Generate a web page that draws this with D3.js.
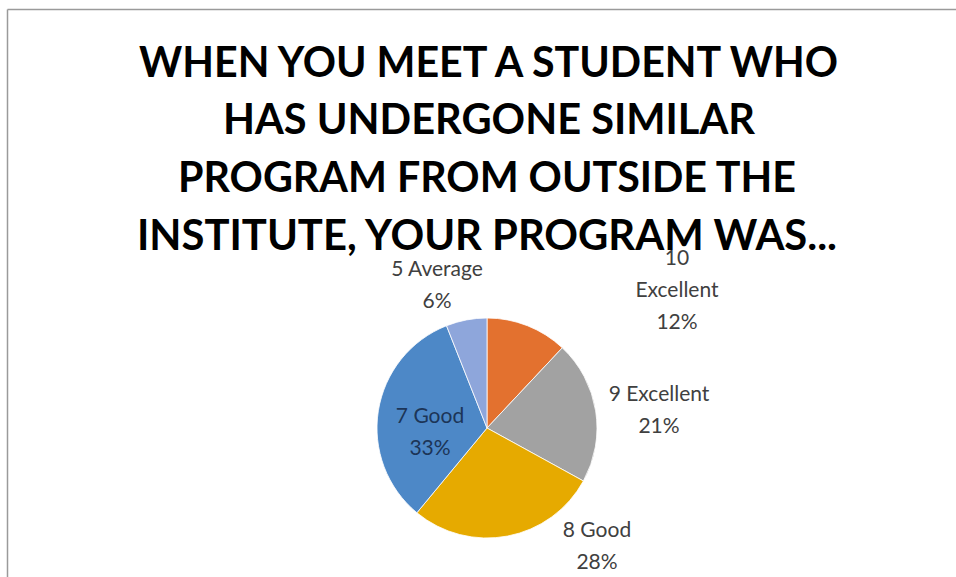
<!DOCTYPE html>
<html>
<head>
<meta charset="utf-8">
<script src="https://cdnjs.cloudflare.com/ajax/libs/d3/7.8.5/d3.min.js"></script>
<style>
  html, body { margin: 0; padding: 0; background: #fff; }
  svg { display: block; }
</style>
</head>
<body>
<svg id="chart" width="956" height="577"></svg>
<script>
// ---- data ----
const titleLines = [
  "WHEN YOU MEET A STUDENT WHO",
  "HAS UNDERGONE SIMILAR",
  "PROGRAM FROM OUTSIDE THE",
  "INSTITUTE, YOUR PROGRAM WAS..."
];
const categories = ["10 Excellent", "9 Excellent", "8 Good", "7 Good", "5 Average"];
const labelLines = [["10", "Excellent"], ["9 Excellent"], ["8 Good"], ["7 Good"], ["5 Average"]];
const values = [12, 21, 28, 33, 6];
const colors = ["#E3712F", "#A2A2A2", "#E6AA00", "#4D88C7", "#8EA6DB"];

// ---- layout ----
const W = 956, H = 577;
const cx = 487, cy = 428, R = 110;
// label anchors relative to pie centre: [dx, first baseline dy]
const labelPos = [[190, -163], [172, -27], [110, 109], [-57, -5], [-50, -152]];
const labelFill = ["#404040", "#404040", "#404040", "#1C3557", "#404040"];
const lineGap = 32;

const svg = d3.select("#chart");

// frame
svg.append("line").attr("x1", 7.5).attr("y1", 9.5).attr("x2", W).attr("y2", 9.5)
  .attr("stroke", "#9a9a9a").attr("stroke-width", 1.5);
svg.append("line").attr("x1", 7.5).attr("y1", 9.5).attr("x2", 7.5).attr("y2", H)
  .attr("stroke", "#9a9a9a").attr("stroke-width", 1.5);

// pie
const total = d3.sum(values);
const pie = d3.pie().sort(null).value(d => d)(values);
const arc = d3.arc().innerRadius(0).outerRadius(R);
const g = svg.append("g").attr("transform", `translate(${cx},${cy})`);
g.selectAll("path").data(pie).join("path")
  .attr("d", arc)
  .attr("fill", (d, i) => colors[i])
  .attr("stroke", "#ffffff").attr("stroke-width", 0.8);

// labels
const fmt = v => Math.round(v / total * 100) + "%";
pie.forEach((d, i) => {
  const lines = labelLines[i].concat([fmt(values[i])]);
  const t = g.append("text")
    .attr("text-anchor", "middle")
    .attr("font-family", "Lato, 'Open Sans', sans-serif")
    .attr("font-size", 21)
    .attr("fill", labelFill[i]);
  lines.forEach((ln, k) => {
    t.append("tspan")
      .attr("x", labelPos[i][0])
      .attr("y", labelPos[i][1] + k * lineGap)
      .text(ln);
  });
});

// title
const titleBase = [77, 134, 192, 250];
const titleX = [[139, 838], [223, 755], [178, 796], [137, 837]];
const tt = svg.append("g");
titleLines.forEach((ln, i) => {
  tt.append("text")
    .attr("x", (titleX[i][0] + titleX[i][1]) / 2)
    .attr("y", titleBase[i])
    .attr("text-anchor", "middle")
    .attr("font-family", "Lato, 'Open Sans', sans-serif")
    .attr("font-weight", "bold")
    .attr("font-size", 42)
    .attr("fill", "#000")
    .attr("textLength", titleX[i][1] - titleX[i][0])
    .attr("lengthAdjust", "spacingAndGlyphs")
    .text(ln);
});
</script>
</body>
</html>
